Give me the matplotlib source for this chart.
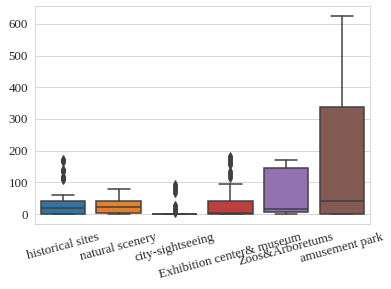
import matplotlib
matplotlib.use('Agg')
import matplotlib.pyplot as plt
import seaborn as sns

# datos (resumen de cada caja)
categorias = ['historical sites', 'natural scenery', 'city-sightseeing',
              'Exhibition center& museum', 'Zoos&Arboretums', 'amusement park']
q1 = [0, 5, 0, 0, 6, 0]
mediana = [18, 24, 0, 5, 15, 40]
q3 = [42, 43, 1, 40, 144, 337]
bigote_inf = [0, 0, 0, 0, 0, 0]
bigote_sup = [59, 78, 1, 94, 172, 625]
atipicos = [
    [107, 110, 113, 117, 120, 133, 136, 140, 143, 163, 167, 170, 174],
    [],
    [3, 6, 10, 15, 20, 25, 28, 68, 72, 78, 84, 90, 95],
    [115, 120, 125, 130, 137, 156, 160, 165, 170, 175, 180, 184],
    [],
    [],
]
colores = ['#3274a1', '#e1812c', '#3a923a', '#c03d3e', '#9372b2', '#845b53']

sns.set_style('whitegrid')
plt.rcParams['font.family'] = ['Liberation Serif', 'DejaVu Serif']

fig = plt.figure(figsize=(391 / 72, 289 / 72), dpi=72)
ax = fig.add_axes([0.0895, 0.225, 0.8565, 0.754])

stats = []
for i in range(len(categorias)):
    stats.append({'q1': q1[i], 'med': mediana[i], 'q3': q3[i],
                  'whislo': bigote_inf[i], 'whishi': bigote_sup[i],
                  'fliers': atipicos[i]})

gris = '#3f3f3f'
bp = ax.bxp(stats, positions=range(len(categorias)), widths=0.8,
            patch_artist=True, showfliers=True,
            boxprops=dict(edgecolor=gris, linewidth=1.5),
            medianprops=dict(color=gris, linewidth=1.5),
            whiskerprops=dict(color=gris, linewidth=1.5),
            capprops=dict(color=gris, linewidth=1.5),
            flierprops=dict(marker='d', markersize=5, markerfacecolor=gris,
                            markeredgecolor=gris, linestyle='none'))
for caja, c in zip(bp['boxes'], colores):
    caja.set_facecolor(c)

ax.set_xlim(-0.5, len(categorias) - 0.5)
ax.set_ylim(-31, 656)
ax.set_yticks([0, 100, 200, 300, 400, 500, 600])
ax.set_xticks(range(len(categorias)))
ax.set_xticklabels(categorias, rotation=15)
ax.xaxis.grid(False)
ax.tick_params(labelsize=13)

fig.savefig('out.png', dpi=72)
